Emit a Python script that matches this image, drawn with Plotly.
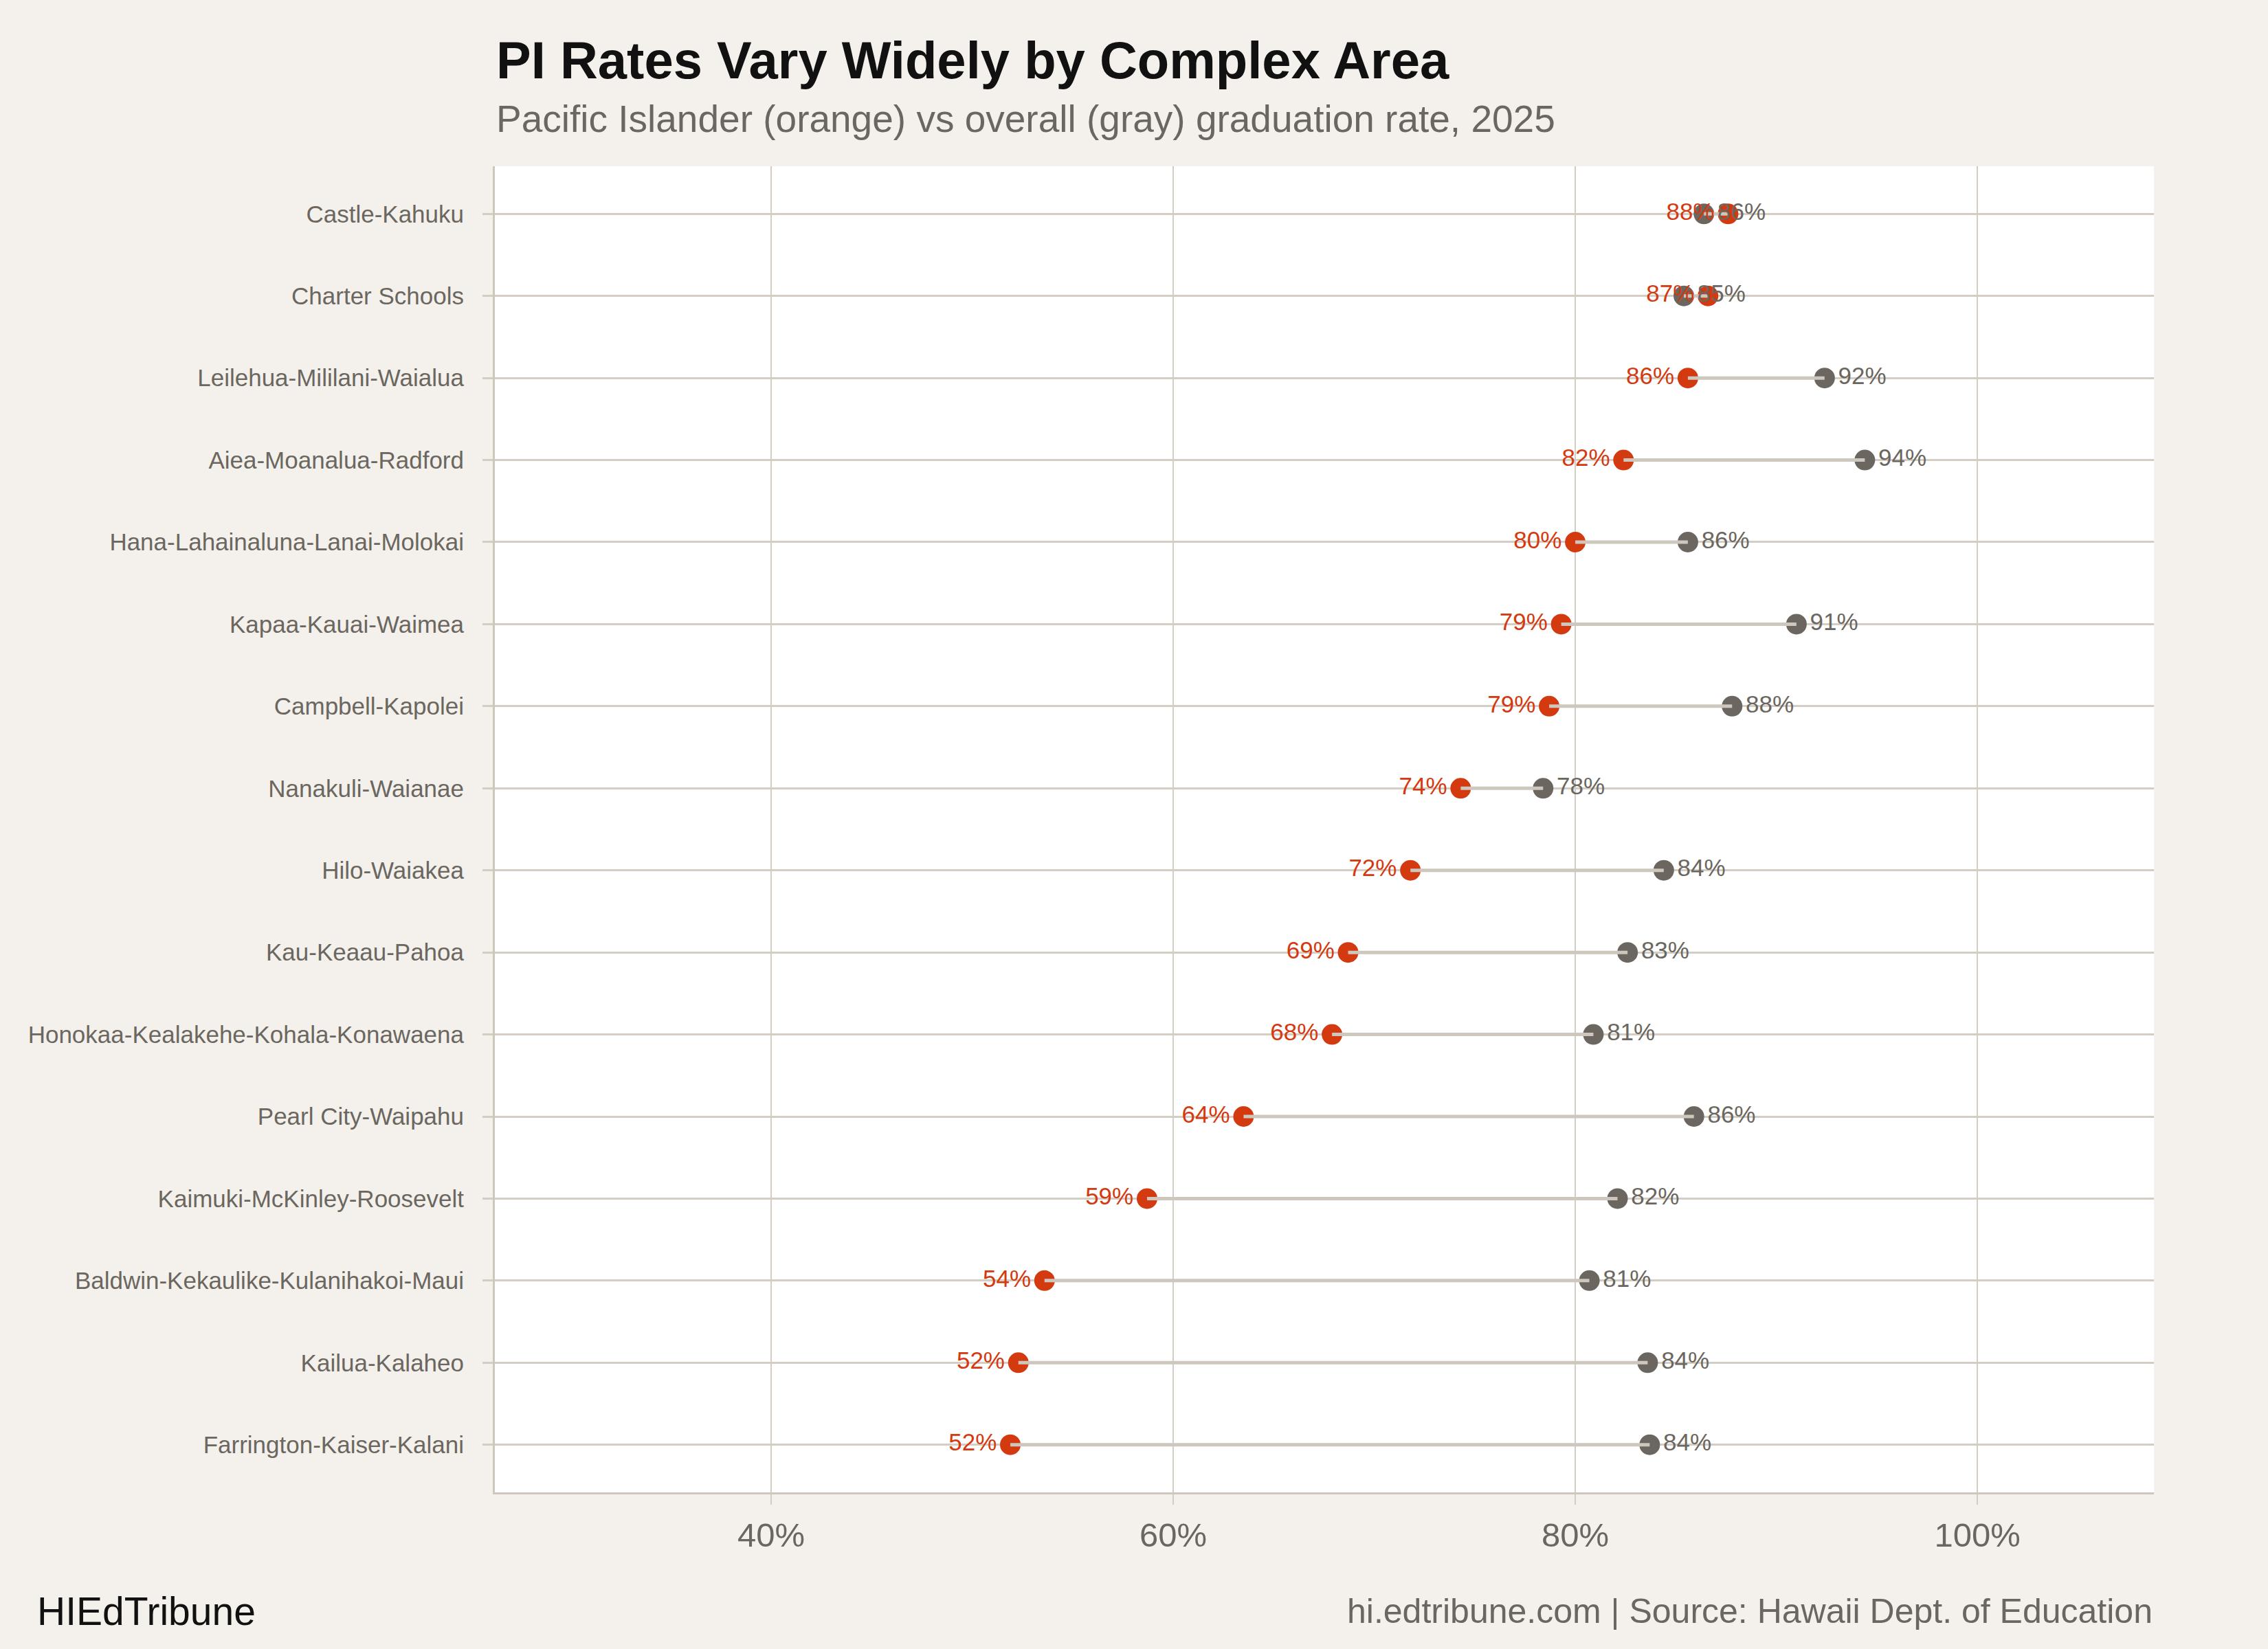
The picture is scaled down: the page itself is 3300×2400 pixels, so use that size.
import plotly.graph_objects as go

areas = [
    "Castle-Kahuku", "Charter Schools", "Leilehua-Mililani-Waialua",
    "Aiea-Moanalua-Radford", "Hana-Lahainaluna-Lanai-Molokai",
    "Kapaa-Kauai-Waimea", "Campbell-Kapolei", "Nanakuli-Waianae",
    "Hilo-Waiakea", "Kau-Keaau-Pahoa", "Honokaa-Kealakehe-Kohala-Konawaena",
    "Pearl City-Waipahu", "Kaimuki-McKinley-Roosevelt",
    "Baldwin-Kekaulike-Kulanihakoi-Maui", "Kailua-Kalaheo",
    "Farrington-Kaiser-Kalani",
]
pi_rate = [87.6, 86.6, 85.6, 82.4, 80.0, 79.3, 78.7, 74.3, 71.8, 68.7, 67.9,
           63.5, 58.7, 53.6, 52.3, 51.9]
overall_rate = [86.4, 85.4, 92.4, 94.4, 85.6, 91.0, 87.8, 78.4, 84.4, 82.6,
                80.9, 85.9, 82.1, 80.7, 83.6, 83.7]
x_ticks = [40, 60, 80, 100]
x_tick_labels = ["40%", "60%", "80%", "100%"]

ORANGE = "#d43a10"
GRAY = "#6b6760"
LIGHT = "#cdc7bd"
GRID = "#d3cdc4"
BG = "#f4f1ec"
FONT = "Liberation Sans, Arial, Helvetica, sans-serif"

fig = go.Figure()

# dots
fig.add_trace(go.Scatter(x=overall_rate, y=areas, mode="markers",
                         marker=dict(size=30, color=GRAY), hoverinfo="skip",
                         showlegend=False))
fig.add_trace(go.Scatter(x=pi_rate, y=areas, mode="markers",
                         marker=dict(size=30, color=ORANGE), hoverinfo="skip",
                         showlegend=False))

# connecting segments (drawn on top of dots)
seg_x, seg_y = [], []
for a, p, o in zip(areas, pi_rate, overall_rate):
    seg_x += [p, o, None]
    seg_y += [a, a, None]
fig.add_trace(go.Scatter(x=seg_x, y=seg_y, mode="lines",
                         line=dict(color=LIGHT, width=5), hoverinfo="skip",
                         showlegend=False))

# labels
fig.add_trace(go.Scatter(x=pi_rate, y=areas, mode="markers+text",
                         marker=dict(size=30, color="rgba(0,0,0,0)"),
                         text=[f"{round(v)}%" for v in pi_rate],
                         textposition="middle left",
                         textfont=dict(color=ORANGE, size=35, family=FONT),
                         hoverinfo="skip", showlegend=False))
fig.add_trace(go.Scatter(x=overall_rate, y=areas, mode="markers+text",
                         marker=dict(size=30, color="rgba(0,0,0,0)"),
                         text=[f"{round(v)}%" for v in overall_rate],
                         textposition="middle right",
                         textfont=dict(color=GRAY, size=35, family=FONT),
                         hoverinfo="skip", showlegend=False))

fig.update_layout(
    width=3300, height=2400,
    paper_bgcolor=BG, plot_bgcolor="white",
    margin=dict(l=720, r=166, t=242, b=228),
    font=dict(family=FONT, color=GRAY),
    xaxis=dict(range=[26.26, 108.78], tickvals=x_ticks, ticktext=x_tick_labels,
               showgrid=True, gridcolor=GRID, gridwidth=2,
               zeroline=False, showline=True, linecolor=LIGHT, linewidth=3,
               ticks="outside", ticklen=15, tickcolor=GRID, tickwidth=2,
               tickfont=dict(size=49, color=GRAY, family=FONT),
               ticklabelstandoff=2),
    yaxis=dict(type="category", categoryorder="array", categoryarray=areas,
               range=[len(areas) - 1 + 0.58, -0.58],
               showgrid=True, gridcolor=GRID, gridwidth=3,
               zeroline=False, showline=True, linecolor=LIGHT, linewidth=3,
               ticks="outside", ticklen=15, tickcolor=GRID, tickwidth=3,
               tickfont=dict(size=35, color=GRAY, family=FONT),
               ticklabelstandoff=20),
    annotations=[
        dict(text="<b>PI Rates Vary Widely by Complex Area</b>",
             xref="paper", yref="paper", x=0, y=1.0798, xanchor="left",
             yanchor="middle", showarrow=False,
             font=dict(size=76, color="#111111", family=FONT)),
        dict(text="Pacific Islander (orange) vs overall (gray) graduation rate, 2025",
             xref="paper", yref="paper", x=0, y=1.036, xanchor="left",
             yanchor="middle", showarrow=False,
             font=dict(size=55, color=GRAY, family=FONT)),
        dict(text="HIEdTribune", xref="paper", yref="paper", x=-0.2767,
             y=-0.0894, xanchor="left", yanchor="middle", showarrow=False,
             font=dict(size=57, color="#111111", family=FONT)),
        dict(text="hi.edtribune.com | Source: Hawaii Dept. of Education",
             xref="paper", yref="paper", x=1, y=-0.0894, xanchor="right",
             yanchor="middle", showarrow=False,
             font=dict(size=50, color=GRAY, family=FONT)),
    ],
)

fig.write_html("out.html")
